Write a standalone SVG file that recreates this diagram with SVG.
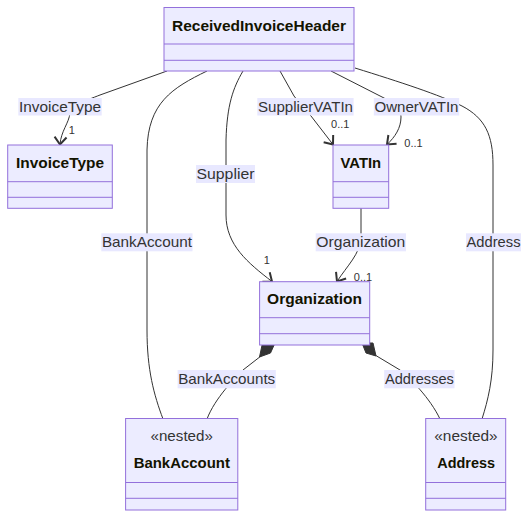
<svg xmlns="http://www.w3.org/2000/svg" width="529" height="518" viewBox="0 0 529 518">
<style>
.box{fill:#ECECFF;stroke:#9370DB;stroke-width:1}
.div{stroke:#9370DB;stroke-width:1}
.edge{fill:none;stroke:#333;stroke-width:1}
.lbg{fill:#E8E8FF}
.lbl{font-family:"Liberation Sans",Arial,sans-serif;font-size:15px;fill:#333;text-anchor:middle}
.card{font-family:"Liberation Sans",Arial,sans-serif;font-size:11px;fill:#333;text-anchor:middle}
.title{font-family:"Liberation Sans",Arial,sans-serif;font-size:15px;font-weight:bold;fill:#131300;text-anchor:middle}
.stereo{font-family:"Liberation Sans",Arial,sans-serif;font-size:15px;fill:#333;text-anchor:middle}
.dia{fill:#333;stroke:#333;stroke-width:1}
</style>
<defs>
<marker id="arr" markerUnits="userSpaceOnUse" markerWidth="16" markerHeight="16" viewBox="0 0 16 16" refX="13.5" refY="8" orient="auto">
<path d="M6,2 L13.5,8 L6,14" fill="none" stroke="#333" stroke-width="2" stroke-linejoin="miter"/>
</marker>
</defs>
<g id="connectors">
<path class="edge" d="M167,71 L100,95 C85,101 71,105 70,113 C69,123 61,131 60,144.5" marker-end="url(#arr)"/>
<path class="edge" d="M207,71 C172,88 148,103 147,150 L147,330 C147,370 154,395 163,419"/>
<path class="edge" d="M243,71 C233,88 227,105 226,140 L226,215 C226,245 248,263 272,281.5" marker-end="url(#arr)"/>
<path class="edge" d="M280,71 L294,96 Q302,107 311,116 L333,144.5" marker-end="url(#arr)"/>
<path class="edge" d="M331,71 L384,98 C397,105 401,110 401,117 C401,128 395,137 387,144.5" marker-end="url(#arr)"/>
<path class="edge" d="M355,68 C400,82 440,95 462,106 C485,118 493,135 493,165 L493,350 C493,380 488,400 482,419"/>
<path class="edge" d="M361,208 L361,238 C360,254 347,266 337,281.5" marker-end="url(#arr)"/>
<path class="edge" d="M261,356 L243,370 C235,378 215,398 207,419"/>
<path class="edge" d="M375,355 L400,370 C410,378 430,398 440,419"/>
<polygon class="dia" points="262.5,343 275,343 270.5,353 259.5,357"/>
<polygon class="dia" points="362,343 373,343 376,356 366,353"/>
</g>
<g id="edge-labels">
<rect class="lbg" x="18.3" y="98" width="83.4" height="17.5"/>
<text class="lbl" x="60" y="111.5" textLength="82" lengthAdjust="spacingAndGlyphs">InvoiceType</text>
<rect class="lbg" x="196" y="165" width="59" height="18"/>
<text class="lbl" x="225.5" y="178.7" textLength="58" lengthAdjust="spacingAndGlyphs">Supplier</text>
<rect class="lbg" x="257.3" y="98" width="96.3" height="17.5"/>
<text class="lbl" x="305.5" y="111.5" textLength="95" lengthAdjust="spacingAndGlyphs">SupplierVATIn</text>
<rect class="lbg" x="373.8" y="98" width="85.4" height="17.5"/>
<text class="lbl" x="416.5" y="111.5" textLength="84" lengthAdjust="spacingAndGlyphs">OwnerVATIn</text>
<rect class="lbg" x="101.3" y="233.3" width="91.2" height="18"/>
<text class="lbl" x="146.9" y="247" textLength="90" lengthAdjust="spacingAndGlyphs">BankAccount</text>
<rect class="lbg" x="315.7" y="233.3" width="90.3" height="18"/>
<text class="lbl" x="360.8" y="247" textLength="89" lengthAdjust="spacingAndGlyphs">Organization</text>
<rect class="lbg" x="466" y="233.3" width="55" height="18"/>
<text class="lbl" x="493.5" y="247" textLength="54" lengthAdjust="spacingAndGlyphs">Address</text>
<rect class="lbg" x="177.6" y="370" width="98.2" height="18.3"/>
<text class="lbl" x="226.7" y="384" textLength="97" lengthAdjust="spacingAndGlyphs">BankAccounts</text>
<rect class="lbg" x="384.2" y="370" width="70.3" height="18.3"/>
<text class="lbl" x="419.4" y="384" textLength="69" lengthAdjust="spacingAndGlyphs">Addresses</text>
</g>
<g id="node-ReceivedInvoiceHeader">
<rect class="box" x="164" y="7.5" width="190" height="63.5"/>
<line class="div" x1="164" y1="44" x2="354" y2="44"/>
<line class="div" x1="164" y1="60.3" x2="354" y2="60.3"/>
<text class="title" x="259" y="31.3" textLength="174" lengthAdjust="spacingAndGlyphs">ReceivedInvoiceHeader</text>
</g>
<g id="node-InvoiceType">
<rect class="box" x="7.7" y="145" width="104.6" height="63.3"/>
<line class="div" x1="7.7" y1="181.7" x2="112.3" y2="181.7"/>
<line class="div" x1="7.7" y1="197.3" x2="112.3" y2="197.3"/>
<text class="title" x="60" y="168.3" textLength="88" lengthAdjust="spacingAndGlyphs">InvoiceType</text>
</g>
<g id="node-VATIn">
<rect class="box" x="333" y="145" width="55.7" height="63.3"/>
<line class="div" x1="333" y1="181.7" x2="388.7" y2="181.7"/>
<line class="div" x1="333" y1="197.3" x2="388.7" y2="197.3"/>
<text class="title" x="360.8" y="168.3" textLength="40.6" lengthAdjust="spacingAndGlyphs">VATIn</text>
</g>
<g id="node-Organization">
<rect class="box" x="259.6" y="281.7" width="110.1" height="63.3"/>
<line class="div" x1="259.6" y1="317.7" x2="369.7" y2="317.7"/>
<line class="div" x1="259.6" y1="333.7" x2="369.7" y2="333.7"/>
<text class="title" x="314.6" y="304.3" textLength="95" lengthAdjust="spacingAndGlyphs">Organization</text>
</g>
<g id="node-BankAccount">
<rect class="box" x="125.6" y="418.5" width="112.2" height="91.5"/>
<line class="div" x1="125.6" y1="482.5" x2="237.8" y2="482.5"/>
<line class="div" x1="125.6" y1="498.3" x2="237.8" y2="498.3"/>
<text class="stereo" x="181.7" y="440.7" textLength="62.4" lengthAdjust="spacingAndGlyphs">«nested»</text>
<text class="title" x="181.8" y="468.4" textLength="96.3" lengthAdjust="spacingAndGlyphs">BankAccount</text>
</g>
<g id="node-Address">
<rect class="box" x="425.7" y="418.5" width="80" height="91.5"/>
<line class="div" x1="425.7" y1="482.5" x2="505.7" y2="482.5"/>
<line class="div" x1="425.7" y1="498.3" x2="505.7" y2="498.3"/>
<text class="stereo" x="466" y="440.7" textLength="63.4" lengthAdjust="spacingAndGlyphs">«nested»</text>
<text class="title" x="466.2" y="468.4" textLength="57.7" lengthAdjust="spacingAndGlyphs">Address</text>
</g>
<g id="cardinalities">
<text class="card" x="71.7" y="133.5">1</text>
<text class="card" x="340.2" y="128">0..1</text>
<text class="card" x="413.5" y="146.7">0..1</text>
<text class="card" x="266.8" y="264">1</text>
<text class="card" x="363" y="281.3">0..1</text>
</g>
</svg>
